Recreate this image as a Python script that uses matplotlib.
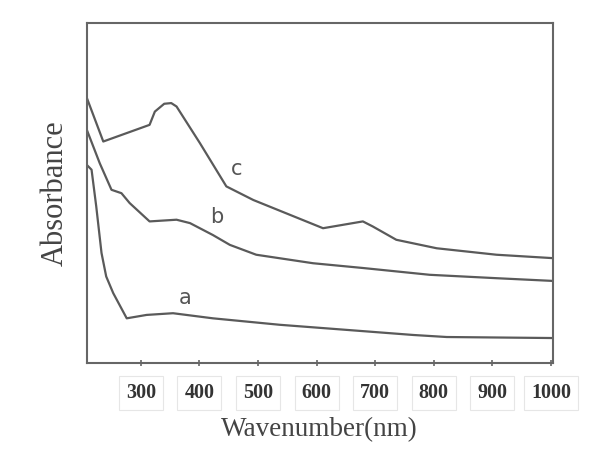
import matplotlib
matplotlib.use("Agg")
import matplotlib.pyplot as plt

# Wavelength (nm) and absorbance (arbitrary units)
wl_a = [208, 216, 224, 233, 241, 253, 276, 310, 355, 423, 537, 651, 765, 822, 1003]
abs_a = [0.582, 0.568, 0.460, 0.323, 0.254, 0.205, 0.131, 0.141, 0.146, 0.131, 0.112, 0.097, 0.082, 0.076, 0.073]

wl_b = [208, 230, 250, 267, 281, 315, 361, 384, 423, 452, 497, 594, 679, 793, 907, 1003]
abs_b = [0.685, 0.587, 0.509, 0.499, 0.470, 0.416, 0.421, 0.411, 0.376, 0.347, 0.318, 0.293, 0.279, 0.259, 0.249, 0.241]

wl_c = [208, 236, 315, 324, 340, 352, 361, 401, 446, 492, 611, 679, 696, 736, 805, 907, 1003]
abs_c = [0.779, 0.651, 0.700, 0.739, 0.762, 0.764, 0.754, 0.646, 0.519, 0.479, 0.396, 0.416, 0.401, 0.362, 0.337, 0.318, 0.308]

tick_values = [300, 400, 500, 600, 700, 800, 900, 1000]
tick_labels = ["300", "400", "500", "600", "700", "800", "900", "1000"]

curve_names = ["a", "b", "c"]
name_pos = [(375, 0.19), (430, 0.43), (464, 0.57)]

line_col = "#5a5a5a"
serif = ["Liberation Serif", "DejaVu Serif"]

fig = plt.figure(figsize=(5.95, 4.57), dpi=100)
ax = fig.add_axes([0.146, 0.206, 0.783, 0.744])

for wl, ab in [(wl_a, abs_a), (wl_b, abs_b), (wl_c, abs_c)]:
    ax.plot(wl, ab, color=line_col, lw=1.6, solid_joinstyle="round")

for name, (x, y) in zip(curve_names, name_pos):
    ax.text(x, y, name, fontsize=15, color="#555555", family=["DejaVu Sans"],
            ha="center", va="center")

ax.set_xlim(208, 1003)
ax.set_ylim(0, 1)
ax.set_yticks([])
ax.set_xticks(tick_values)
ax.set_xticklabels(tick_labels, family=serif, fontsize=14.5, fontweight="bold",
                   color="#333333")
ax.tick_params(axis="x", direction="inout", length=5, width=1.2,
               color="#666666", pad=12)
for lbl in ax.get_xticklabels():
    lbl.set_bbox(dict(boxstyle="square,pad=0.35", facecolor="white",
                      edgecolor="#e6e6e6", lw=0.8))

for s in ax.spines.values():
    s.set_color("#666666")
    s.set_linewidth(1.5)

ax.set_xlabel("Wavenumber(nm)", family=serif, fontsize=19.5, color="#444444",
              labelpad=10)
ax.set_ylabel("Absorbance", family=serif, fontsize=22, color="#444444",
              labelpad=12)

fig.savefig("out.png", dpi=100)
